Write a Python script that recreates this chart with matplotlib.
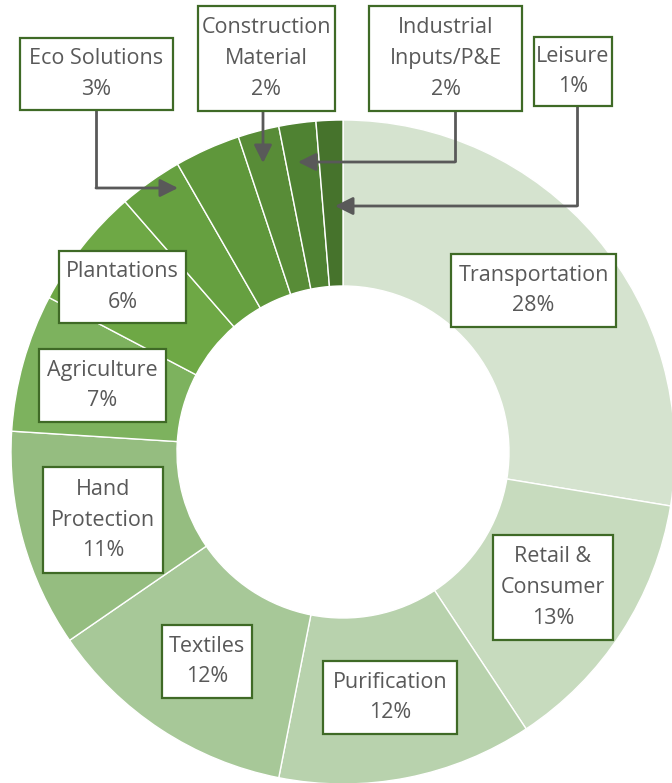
import numpy as np
import matplotlib.pyplot as plt
from matplotlib.patches import Rectangle

# segment shares (%), clockwise from 12 o'clock
segments = ["Transportation", "Retail &\nConsumer", "Purification", "Textiles",
            "Hand\nProtection", "Agriculture", "Plantations", "Eco Solutions",
            "", "Construction\nMaterial", "Industrial\nInputs/P&E", "Leisure"]
shares = [27.6, 13.1, 12.4, 12.3, 10.6, 6.7, 5.9, 3.1, 3.2, 2.0, 1.8, 1.3]
colors = ["#d5e3cf", "#c7dbbe", "#b8d2ad", "#a7c898", "#95bd80", "#7db25e",
          "#6ea845", "#66a040", "#5f973b", "#588c37", "#4f8232", "#46732c"]

# layout in pixels of the 672x783 image
W, H = 672, 783
CX, CY, R = 343, 452, 332


def px(x, y):
    return (x - CX) / R, (CY - y) / R


# label boxes: x0, y0, x1, y1 (pixels)
boxes = [(451, 254, 616, 327), (493, 535, 613, 640), (323, 661, 457, 734),
         (162, 625, 252, 698), (43, 467, 163, 573), (39, 349, 166, 422),
         (59, 251, 186, 323), (20, 38, 173, 110), None,
         (198, 6, 335, 111), (369, 6, 522, 111), (534, 37, 612, 106)]

# connector paths for the thin slices (pixels), last point is the arrow tip
connectors = {
    7: [(96, 110), (96, 188), (178, 188)],
    9: [(263, 111), (263, 163)],
    10: [(455, 111), (455, 162), (298, 162)],
    11: [(577, 106), (577, 206), (335, 206)],
}

plt.rcParams['font.family'] = ['Open Sans', 'DejaVu Sans']
fig = plt.figure(figsize=(W / 100, H / 100), dpi=100)
ax = fig.add_axes([0, 0, 1, 1])

ax.pie(shares, colors=colors, startangle=90, counterclock=False, radius=1,
       wedgeprops=dict(width=0.5, edgecolor="white", linewidth=1))

ax.set_aspect("auto")
x0, y0 = px(0, H)
x1, y1 = px(W, 0)
ax.set_xlim(x0, x1)
ax.set_ylim(y0, y1)
ax.axis("off")

text_col = "#595959"
edge_col = "#3f6a26"

for i, (name, v) in enumerate(zip(segments, shares)):
    b = boxes[i]
    if b is None:
        continue
    bx0, by1 = px(b[0], b[3])
    bx1, by0 = px(b[2], b[1])
    ax.add_patch(Rectangle((bx0, by0), bx1 - bx0, by1 - by0, facecolor="white",
                           edgecolor=edge_col, linewidth=1.6, zorder=5))
    ax.text((bx0 + bx1) / 2, (by0 + by1) / 2, f"{name}\n{v:.0f}%",
            ha="center", va="center", fontsize=15.5, color=text_col,
            linespacing=1.62, zorder=6)

for i, path in connectors.items():
    pts = [px(*p) for p in path]
    if len(pts) > 2:
        xs, ys = zip(*pts[:-1])
        ax.plot(xs, ys, color=text_col, lw=2, solid_capstyle="butt",
                solid_joinstyle="miter", zorder=4)
    ax.annotate("", xy=pts[-1], xytext=pts[-2],
                arrowprops=dict(arrowstyle="-|>,head_length=0.4,head_width=0.2",
                                mutation_scale=27, color=text_col, lw=2,
                                shrinkA=0, shrinkB=0), zorder=4)

fig.savefig("out.png", dpi=100)
